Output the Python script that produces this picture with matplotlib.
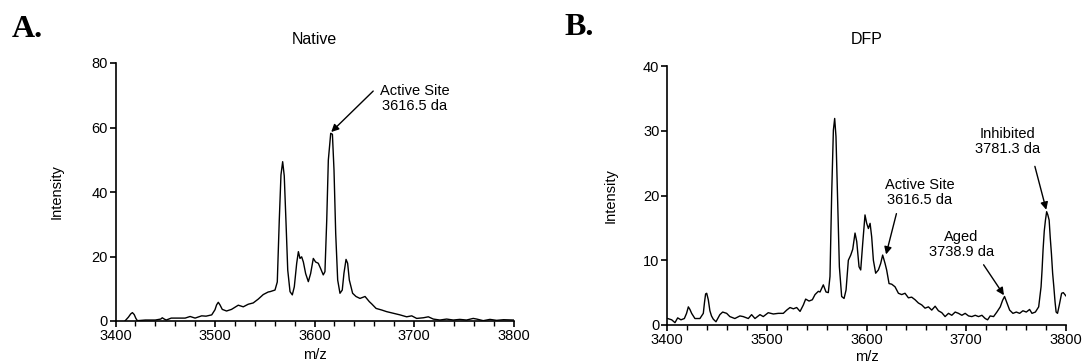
import matplotlib
matplotlib.use("Agg")
import matplotlib.pyplot as plt
from matplotlib.ticker import MultipleLocator

plt.rcParams['font.family'] = ['Liberation Sans', 'DejaVu Sans']

# ---------------- Data ----------------
native_mz = [3409.5, 3413, 3415.3, 3417, 3418.8, 3420.5, 3422, 3430, 3440, 3445.5, 3447,
             3449, 3451, 3456, 3463, 3470, 3475, 3480, 3486.6, 3491, 3496.7, 3500,
             3501.6, 3503.3, 3505, 3507.3, 3511.6, 3516.6, 3523.4, 3528.4, 3533.4,
             3538.4, 3543.5, 3548.5, 3553.5, 3555.3, 3560.3, 3562.6, 3564.6, 3566.3,
             3568.0, 3569.6, 3571.4, 3573.1, 3575.4, 3577.7, 3579.7, 3582.1, 3583.8,
             3585.4, 3587.1, 3588.8, 3591.1, 3593.8, 3596.1, 3598.8, 3601.1, 3603.8,
             3606.1, 3608.8, 3610.5, 3612.3, 3613.9, 3616.3, 3618.0, 3619.6, 3621.3,
             3623.3, 3625.6, 3627.9, 3629.6, 3631.7, 3633.3, 3635.0, 3636.3, 3638.3,
             3641.7, 3645.7, 3650.8, 3655.1, 3657.5, 3661.9, 3667.6, 3672.5, 3679.2,
             3685.9, 3692.6, 3697.7, 3702.7, 3709.4, 3714.4, 3719.4, 3726, 3732.8,
             3739.5, 3746, 3752.8, 3759.5, 3763, 3769.6, 3776.3, 3783, 3790, 3800]
native_int = [0.0, 1.2, 2.2, 2.6, 2.0, 0.8, 0.1, 0.3, 0.3, 0.6, 1.0,
              0.6, 0.3, 0.9, 0.9, 0.9, 1.4, 0.9, 1.6, 1.5, 1.9, 3.5,
              5.0, 5.8, 5.0, 3.6, 3.1, 3.6, 4.9, 4.4, 5.2,
              5.6, 6.8, 8.2, 9.0, 9.1, 9.6, 12.1, 31.3, 45.3,
              49.4, 45.0, 30.3, 15.8, 9.1, 8.1, 10.6, 17.9, 21.5,
              19.4, 19.9, 18.3, 14.7, 12.2, 14.7, 19.4, 18.3, 17.9,
              16.3, 14.3, 15.3, 31.3, 49.9, 58.2, 57.9, 46.8, 27.2,
              12.7, 8.6, 9.6, 14.8, 19.1, 17.9, 12.7, 11.1, 8.6,
              7.6, 7.0, 7.6, 6.0, 5.3, 3.9, 3.4, 2.9, 2.4,
              1.9, 1.3, 1.6, 0.8, 1.0, 1.3, 0.6, 0.3, 0.6,
              0.3, 0.5, 0.3, 0.8, 0.6, 0.1, 0.5, 0.2, 0.4, 0.3]

dfp_mz = [3400.7, 3404.7, 3408, 3410.7, 3414, 3417.4, 3419.6, 3421.4, 3423, 3424.7,
          3428, 3433, 3436.4, 3437.6, 3438.7, 3439.8, 3441.4, 3443, 3444.6, 3446.4,
          3449.1, 3453, 3455.8, 3459.8, 3463, 3468, 3473.1, 3476.4, 3481.5, 3484.8,
          3488.2, 3493.2, 3496.5, 3501.5, 3506.6, 3511.6, 3516.6, 3520, 3523.3,
          3526.7, 3530, 3533.4, 3536.7, 3539, 3542.4, 3545.7, 3548.4, 3551.7, 3553.4,
          3556.7, 3559.4, 3561.7, 3563.4, 3565.1, 3566.8, 3568.1, 3569.4, 3571.1,
          3572.8, 3575.1, 3577.5, 3579.5, 3581.8, 3584.2, 3586.2, 3588.5, 3590.2,
          3592.5, 3594.2, 3596.2, 3598.5, 3600.2, 3601.9, 3603.6, 3605.2, 3606.9,
          3609.2, 3611.9, 3614.2, 3616.2, 3618.6, 3620.2, 3622.6, 3625.3, 3628.6,
          3632, 3635.3, 3638.6, 3642, 3645.3, 3648.7, 3652, 3655.4, 3658.7, 3662.1,
          3665.4, 3668.8, 3672.1, 3675.5, 3678.8, 3682.2, 3685.5, 3688.9, 3692.2,
          3695.6, 3698.9, 3702.3, 3705.6, 3709, 3712.3, 3715.7, 3719, 3721.4, 3724,
          3727.4, 3730.7, 3734.1, 3736.4, 3738.4, 3740.8, 3743.5, 3746.8, 3750.2,
          3753.5, 3756.8, 3760.2, 3763.5, 3765.9, 3769.3, 3772.6, 3775, 3776,
          3777, 3778.2, 3779.4, 3780.6, 3781.8, 3783.1, 3784.2, 3785.4, 3786.6,
          3787.8, 3789, 3790.1, 3791.5, 3793.3, 3795.6, 3797.3, 3799.9]
dfp_int = [1.0, 0.8, 0.36, 1.1, 0.8, 1.0, 1.8, 2.8, 2.4, 1.8,
           1.0, 1.0, 1.8, 3.5, 4.8, 4.9, 3.9, 2.2, 1.4, 0.9,
           0.5, 1.6, 2.0, 1.8, 1.3, 1.0, 1.4, 1.3, 1.0, 1.6,
           1.0, 1.6, 1.3, 1.9, 1.7, 1.8, 1.8, 2.3, 2.7,
           2.5, 2.7, 2.1, 3.1, 4.0, 3.7, 3.9, 4.7, 5.2, 5.1,
           6.2, 5.1, 5.0, 7.5, 20.3, 30.1, 31.9, 29.1, 18.8,
           9.0, 4.4, 4.1, 5.4, 10.0, 10.8, 11.7, 14.2, 12.9,
           9.0, 8.5, 12.6, 17.0, 15.7, 14.9, 15.7, 13.6, 10.0,
           8.0, 8.5, 9.5, 10.8, 9.5, 8.5, 6.4, 6.3, 5.9,
           4.9, 4.7, 4.9, 4.2, 4.3, 3.9, 3.4, 3.1, 2.6, 2.8,
           2.3, 2.9, 2.2, 1.9, 1.3, 1.8, 1.5, 2.0, 1.8,
           1.5, 1.8, 1.4, 1.3, 1.5, 1.3, 1.5, 1.0, 0.8, 1.4,
           1.3, 2.0, 2.8, 3.8, 4.4, 3.4, 2.3, 1.8, 2.0,
           1.8, 2.2, 2.0, 2.4, 1.8, 2.0, 2.8, 5.9, 8.5,
           11.6, 14.5, 16.2, 17.5, 17.0, 16.2, 13.5, 11.0, 8.0,
           5.9, 3.6, 2.0, 1.8, 3.1, 4.9, 5.0, 4.5]

panel_titles = ["Native", "DFP"]
panel_letters = ["A.", "B."]
y_max = [80, 40]
y_step = [20, 10]
x_ticks = [3400, 3500, 3600, 3700, 3800]

# annotations: (text, text_x, text_y, tail_x, tail_y, head_x, head_y)
native_notes = [("Active Site\n3616.5 da", 3701, 69.0, 3659, 71.3, 3616.8, 58.6)]
dfp_notes = [("Active Site\n3616.5 da", 3653.6, 20.5, 3630, 17.2, 3619.6, 10.9),
             ("Aged\n3738.9 da", 3694.9, 12.5, 3717.4, 9.3, 3737.8, 4.6),
             ("Inhibited\n3781.3 da", 3741, 28.4, 3768.8, 24.5, 3780.2, 17.8)]

# ---------------- Figure ----------------
W, H = 1086, 364
fig = plt.figure(figsize=(W / 100, H / 100), dpi=100)

axes_px = [(115.5, 63, 513.5, 321), (667, 66, 1066, 325)]
ylabel_x = [57, 611]
xlabel_y = [355, 357]
letter_pos = [(12, 37), (564, 35)]

series = [(native_mz, native_int, native_notes), (dfp_mz, dfp_int, dfp_notes)]

for i, (mz, inten, notes) in enumerate(series):
    l, t, r, b = axes_px[i]
    ax = fig.add_axes([l / W, 1 - b / H, (r - l) / W, (b - t) / H])
    ax.plot(mz, inten, color='black', lw=1.0)
    ax.set_xlim(3400, 3800)
    ax.set_ylim(0, y_max[i])
    ax.set_xticks(x_ticks)
    ax.xaxis.set_minor_locator(MultipleLocator(20))
    ax.yaxis.set_major_locator(MultipleLocator(y_step[i]))
    for s in ['top', 'right']:
        ax.spines[s].set_visible(False)
    for s in ['left', 'bottom']:
        ax.spines[s].set_linewidth(1.2)
    ax.tick_params(axis='both', which='major', direction='out', length=4, width=1.2,
                   labelsize=10.5, pad=1.5)
    ax.tick_params(axis='x', which='minor', direction='out', length=3.5, width=1.0)
    ax.tick_params(axis='y', which='minor', length=0)

    for txt, tx, ty, x0, y0, x1, y1 in notes:
        ax.text(tx, ty, txt, ha='center', va='center', fontsize=10.5, linespacing=1.1)
        ax.annotate('', xy=(x1, y1), xytext=(x0, y0),
                    arrowprops=dict(arrowstyle='-|>', color='black', lw=1.0,
                                    mutation_scale=11, shrinkA=0, shrinkB=0))

    cx = (l + r) / 2
    fig.text(cx / W, 1 - 40 / H, panel_titles[i], ha='center', va='center', fontsize=11.5)
    fig.text(ylabel_x[i] / W, 1 - ((t + b) / 2) / H, "Intensity", rotation=90,
             ha='center', va='center', fontsize=10.5)
    fig.text(cx / W, 1 - xlabel_y[i] / H, "m/z", ha='center', va='center', fontsize=10.5)
    lx, ly = letter_pos[i]
    fig.text(lx / W, 1 - ly / H, panel_letters[i], ha='left', va='baseline',
             fontsize=23, fontweight='bold', family=['Liberation Serif', 'DejaVu Serif'])

fig.savefig("out.png", dpi=100)
